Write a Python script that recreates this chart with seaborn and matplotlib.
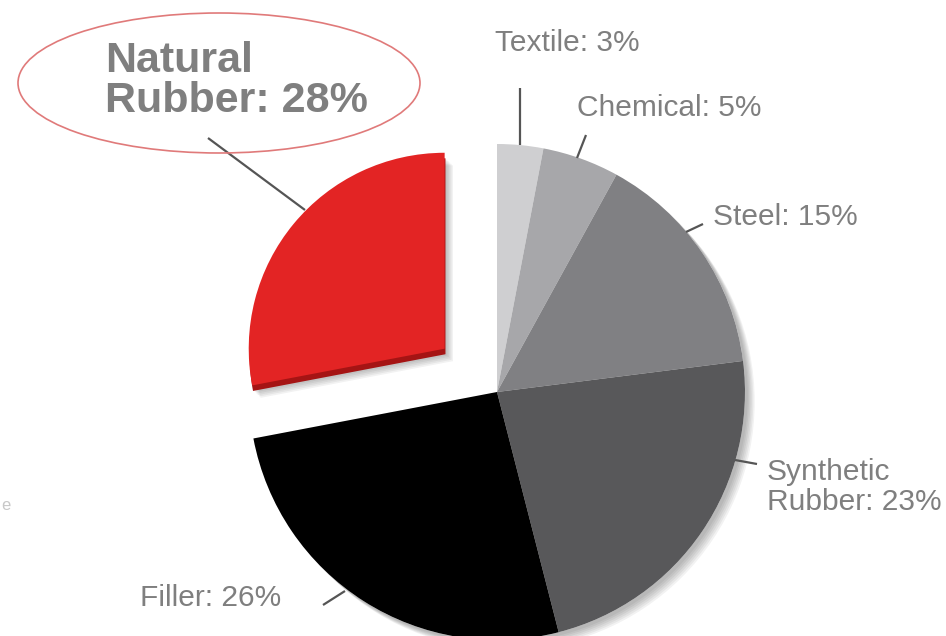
import matplotlib
matplotlib.use("Agg")
import matplotlib.pyplot as plt
import matplotlib.patheffects as pe
from matplotlib.patches import Ellipse, Circle
import seaborn as sns

# ---- data ----
categories = ["Textile", "Chemical", "Steel", "Synthetic\nRubber", "Filler", "Natural\nRubber"]
shares = [3, 5, 15, 23, 26, 28]
colors = ["#cfcfd1", "#a7a7aa", "#808083", "#58585a", "#000000", "#e32424"]

sns.set_theme(style="white")
plt.rcParams["font.family"] = ["Liberation Sans", "DejaVu Sans"]

W, H = 946, 636
R_PX = 248.0            # pie radius in pixels
CX_PX, CY_PX = 497, 392  # pie centre in pixels (from top-left)

fig = plt.figure(figsize=(W / 100, H / 100), dpi=100)
ax = fig.add_axes([0, 0, 1, 1])


def P(x, y):
    """pixel position (top-left origin) -> data units (pie radius = 1)"""
    return ((x - CX_PX) / R_PX, (CY_PX - y) / R_PX)


explode = [0, 0, 0, 0, 0, 0.274]

# soft shadow under the whole pie
shadow = Circle((0, 0), 1.0, facecolor="white", edgecolor="none", zorder=0.5)
shadow.set_path_effects(
    [pe.SimplePatchShadow(offset=(o, -o), shadow_rgbFace="#000000", alpha=0.05)
     for o in (2, 3, 4, 5, 6, 7)] + [pe.Normal()])
ax.add_patch(shadow)

wedges, _ = ax.pie(shares, colors=colors, startangle=90, counterclock=False,
                   radius=1.0, center=(0, 0), explode=explode,
                   wedgeprops=dict(linewidth=0, zorder=1), frame=True)

red = wedges[5]
red.set_radius(0.79)
red.set_zorder(2)
red.set_path_effects(
    [pe.SimplePatchShadow(offset=(o, -o - 3), shadow_rgbFace="#000000", alpha=0.05)
     for o in (2, 3, 4, 5, 6)]
    + [pe.SimplePatchShadow(offset=(0.6, -4), shadow_rgbFace="#a51414", alpha=1.0), pe.Normal()]
)

x0, y0 = P(0, H)
x1, y1 = P(W, 0)
ax.set_xlim(x0, x1)
ax.set_ylim(y0, y1)
ax.set_aspect("equal")
ax.axis("off")

label_color = "#7f7f7f"
line_color = "#555555"
fs = 21.5

# leader lines
lines = [
    [(520, 88), (520, 145)],
    [(586, 135), (577, 158)],
    [(703, 224), (686, 232)],
    [(757, 464), (735, 460)],
    [(323, 605), (345, 591)],
    [(208, 138), (305, 210)],
]
for seg in lines:
    pts = [P(*p) for p in seg]
    ax.plot([p[0] for p in pts], [p[1] for p in pts], color=line_color, lw=1.6,
            solid_capstyle="butt", zorder=3)

texts = [
    ("Textile: 3%", (495, 43)),
    ("Chemical: 5%", (577, 108)),
    ("Steel: 15%", (713, 217)),
    ("Synthetic\nRubber: 23%", (767, 487)),
    ("Filler: 26%", (140, 598)),
]
for t, (x, y) in texts:
    ax.text(*P(x, y), t, ha="left", va="center", fontsize=fs, color=label_color,
            linespacing=1.05, zorder=4)

ax.text(*P(105, 81), "Natural\nRubber: 28%", ha="left", va="center", fontsize=31,
        fontweight="bold", color=label_color, linespacing=1.0, zorder=4)
ax.add_patch(Ellipse(P(219, 83), 402 / R_PX, 140 / R_PX, fill=False,
                     edgecolor="#e07a7a", lw=1.2, zorder=4))

ax.text(*P(1, 505), "e", ha="left", va="center", fontsize=12, color="#c8c8c8")

fig.savefig("out.png", dpi=100)
